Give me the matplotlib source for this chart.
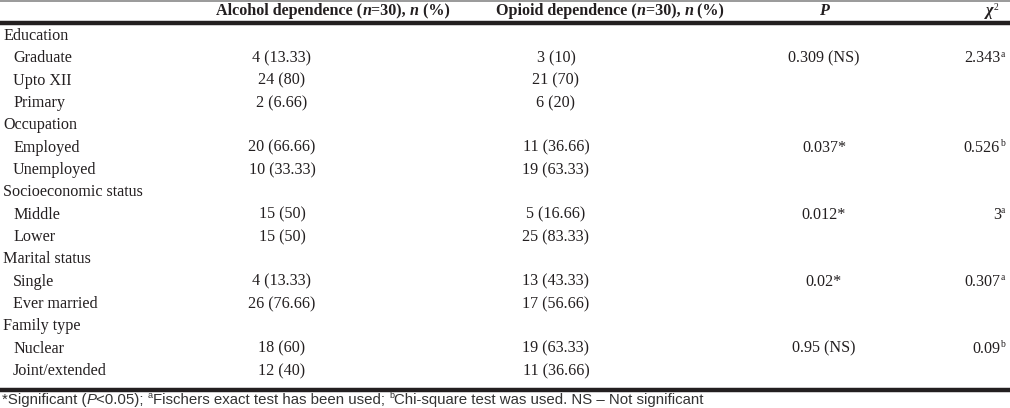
import matplotlib
matplotlib.use("Agg")
import matplotlib.pyplot as plt
from matplotlib import font_manager

# ---------------- data ----------------
categories = ["Education", "Occupation", "Socioeconomic status", "Marital status", "Family type"]
sublabels = [["Graduate", "Upto XII", "Primary"],
             ["Employed", "Unemployed"],
             ["Middle", "Lower"],
             ["Single", "Ever married"],
             ["Nuclear", "Joint/extended"]]
alcohol = [["4 (13.33)", "24 (80)", "2 (6.66)"],
           ["20 (66.66)", "10 (33.33)"],
           ["15 (50)", "15 (50)"],
           ["4 (13.33)", "26 (76.66)"],
           ["18 (60)", "12 (40)"]]
opioid = [["3 (10)", "21 (70)", "6 (20)"],
          ["11 (36.66)", "19 (63.33)"],
          ["5 (16.66)", "25 (83.33)"],
          ["13 (43.33)", "17 (56.66)"],
          ["19 (63.33)", "11 (36.66)"]]
p_values = ["0.309 (NS)", "0.037*", "0.012*", "0.02*", "0.95 (NS)"]
chi_sq = ["2.343", "0.526", "3", "0.307", "0.09"]
chi_sup = ["a", "b", "a", "a", "b"]

# ---------------- layout ----------------
W, H = 1010, 408
fig = plt.figure(figsize=(W / 100, H / 100), dpi=100)
ax = fig.add_axes([0, 0, 1, 1])
ax.set_xlim(0, W)
ax.set_ylim(H, 0)
ax.axis("off")

SERIF = "Liberation Serif"
avail = {f.name for f in font_manager.fontManager.ttflist}
SANS = "Liberation Sans Narrow" if "Liberation Sans Narrow" in avail else "Liberation Sans"
COL = "#231f20"
FS = 11.6

fig.canvas.draw()
renderer = fig.canvas.get_renderer()


def pieces(x, y, parts, ha="left", family=SERIF, size=FS, color=COL):
    """parts: list of (text, weight, style, sup)"""
    objs = []
    widths = []
    for txt, weight, style, sup in parts:
        s = size * 0.6 if sup else size
        t = ax.text(0, y, txt, fontsize=s, fontweight=weight, fontstyle=style,
                    family=family, color=color, va="baseline" if sup else "center")
        bb = t.get_window_extent(renderer)
        objs.append((t, sup))
        widths.append(bb.width)
    total = sum(widths)
    if ha == "center":
        cx = x - total / 2
    elif ha == "right":
        cx = x - total
    else:
        cx = x
    for (t, sup), w in zip(objs, widths):
        t.set_x(cx)
        if sup:
            t.set_y(y - 1.5)
        cx += w
    return total


# lines
ax.plot([0, W], [0.8, 0.8], color="#9a9a9a", lw=1.4, solid_capstyle="butt")
ax.plot([0, W], [23, 23], color="#231f20", lw=3.2, solid_capstyle="butt")
ax.plot([0, W], [389.5, 389.5], color="#231f20", lw=3.2, solid_capstyle="butt")

# header
hy = 11
X_ALC, X_OPI, X_P, X_CHI = 282, 556, 824, 1005
pieces(333, hy, [("Alcohol dependence (", "bold", "normal", False),
                 ("n", "bold", "italic", False),
                 ("=30), ", "bold", "normal", False),
                 ("n", "bold", "italic", False),
                 (" (%)", "bold", "normal", False)], ha="center")
pieces(610, hy, [("Opioid dependence (", "bold", "normal", False),
                 ("n", "bold", "italic", False),
                 ("=30), ", "bold", "normal", False),
                 ("n", "bold", "italic", False),
                 (" (%)", "bold", "normal", False)], ha="center")
pieces(X_P, hy, [("P", "bold", "italic", False)], ha="center")
pieces(992, hy, [("χ", "bold", "italic", False), ("2", "normal", "normal", True)], ha="center")

# body
y0, dy = 36, 22.33
r = 0
for gi, cat in enumerate(categories):
    y = y0 + r * dy
    pieces(3, y, [(cat, "normal", "normal", False)])
    r += 1
    for si, sub in enumerate(sublabels[gi]):
        y = y0 + r * dy
        pieces(13, y, [(sub, "normal", "normal", False)])
        pieces(X_ALC, y, [(alcohol[gi][si], "normal", "normal", False)], ha="center")
        pieces(X_OPI, y, [(opioid[gi][si], "normal", "normal", False)], ha="center")
        if si == 0:
            pieces(X_P, y, [(p_values[gi], "normal", "normal", False)], ha="center")
            pieces(X_CHI, y, [(chi_sq[gi], "normal", "normal", False),
                              (chi_sup[gi], "normal", "normal", True)], ha="right")
        r += 1

# footer
pieces(2, 400, [("*Significant (", "normal", "normal", False),
                ("P", "normal", "italic", False),
                ("<0.05); ", "normal", "normal", False),
                ("a", "normal", "normal", True),
                ("Fischers exact test has been used; ", "normal", "normal", False),
                ("b", "normal", "normal", True),
                ("Chi-square test was used. NS – Not significant", "normal", "normal", False)],
       family=SANS, size=10.8, color="#333333")

fig.savefig("out.png", dpi=100)
